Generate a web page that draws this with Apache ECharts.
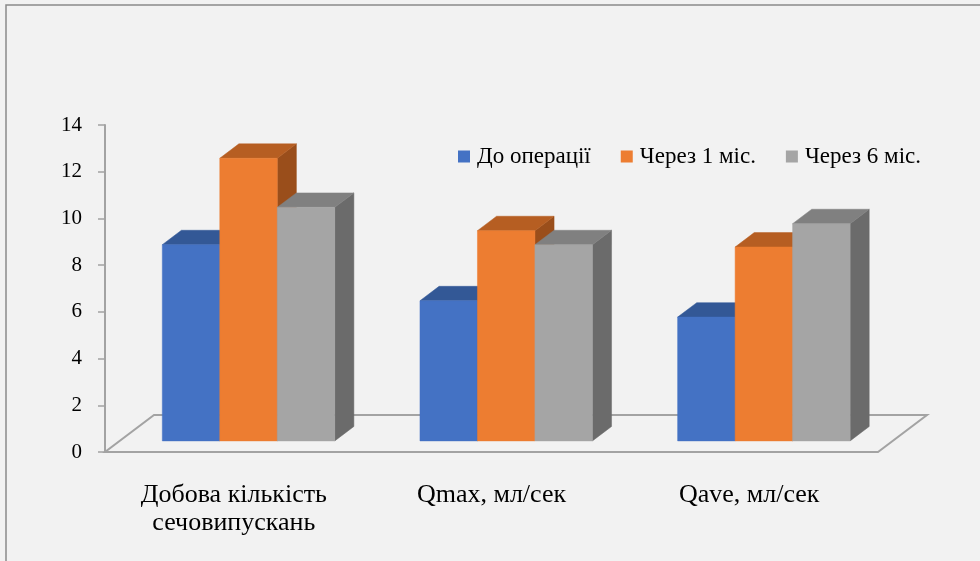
<!DOCTYPE html>
<html>
<head>
<meta charset="utf-8">
<script src="https://cdn.jsdelivr.net/npm/echarts@6/dist/echarts.min.js"></script>
<style>
  html, body { margin: 0; padding: 0; background: #f2f2f2; }
  #chart { width: 980px; height: 561px; }
</style>
</head>
<body>
<div id="chart"></div>
<script>
// Categories and series values
const categories = ['Добова кількість\nсечовипускань', 'Qmax, мл/сек', 'Qave, мл/сек'];
const seriesNames = ['До операції', 'Через 1 міс.', 'Через 6 міс.'];
const beforeOp = [8.4, 6.0, 5.3];
const after1m = [12.1, 9.0, 8.3];
const after6m = [10.0, 8.4, 9.3];
const yTicks = [0, 2, 4, 6, 8, 10, 12, 14];

// Face shades for each series: front, top, side
const palette = [
  { front: '#4472C4', top: '#335896', side: '#2d4e88' },
  { front: '#ED7D31', top: '#B65E22', side: '#9A4E1B' },
  { front: '#A5A5A5', top: '#808080', side: '#6B6B6B' }
];

// Oblique depth of the floor (px) and where the bars sit inside it
const FLOOR_DX = 49, FLOOR_DY = -37;
const BAR_FRONT = 0.30, BAR_BACK = 0.69;
const BAR_FRAC = 0.2231; // bar width as a share of the category band

function barRenderer(idx) {
  const c = palette[idx];
  return function (params, api) {
    const cat = api.value(0);
    const val = api.value(1);
    const bw = api.size([1, 0])[0];
    const w = bw * BAR_FRAC;
    const base = api.coord([cat, 0]);
    const top = api.coord([cat, val]);
    const ox = FLOOR_DX * BAR_FRONT, oy = FLOOR_DY * BAR_FRONT;
    const ddx = FLOOR_DX * (BAR_BACK - BAR_FRONT), ddy = FLOOR_DY * (BAR_BACK - BAR_FRONT);
    const x0 = base[0] - 1.5 * w + idx * w + ox;
    const x1 = x0 + w;
    const yb = base[1] + oy;
    const yt = top[1] + oy;
    return {
      type: 'group',
      children: [
        { type: 'polygon', shape: { points: [[x1, yt], [x1 + ddx, yt + ddy], [x1 + ddx, yb + ddy], [x1, yb]] },
          style: { fill: c.side, stroke: c.side, lineWidth: 0.5 } },
        { type: 'polygon', shape: { points: [[x0, yt], [x1, yt], [x1 + ddx, yt + ddy], [x0 + ddx, yt + ddy]] },
          style: { fill: c.top, stroke: c.top, lineWidth: 0.5 } },
        { type: 'rect', shape: { x: x0, y: yt, width: w, height: yb - yt },
          style: { fill: c.front, stroke: c.front, lineWidth: 0.5 } }
      ]
    };
  };
}

function floorRenderer(params, api) {
  const bw = api.size([1, 0])[0];
  const l = api.coord([0, 0]);
  const r = api.coord([categories.length - 1, 0]);
  const xl = l[0] - bw / 2, xr = r[0] + bw / 2, y = l[1];
  return {
    type: 'polygon',
    shape: { points: [[xl, y], [xr, y], [xr + FLOOR_DX, y + FLOOR_DY], [xl + FLOOR_DX, y + FLOOR_DY]] },
    style: { fill: 'none', stroke: '#a3a3a3', lineWidth: 2 }
  };
}

const values = [beforeOp, after1m, after6m];
const chart = echarts.init(document.getElementById('chart'), null, { renderer: 'canvas' });

const series = [{
  type: 'custom',
  name: 'floor',
  renderItem: floorRenderer,
  data: [[0, 0]],
  z: 1,
  silent: true
}];
values.forEach((arr, i) => {
  series.push({
    type: 'custom',
    name: seriesNames[i],
    renderItem: barRenderer(i),
    itemStyle: { color: palette[i].front },
    data: arr.map((v, k) => [k, v]),
    encode: { x: 0, y: 1 },
    z: 2 + i
  });
});

chart.setOption({
  animation: false,
  backgroundColor: '#f2f2f2',
  graphic: [{
    type: 'rect',
    shape: { x: 6, y: 5, width: 1000, height: 600 },
    style: { fill: 'none', stroke: '#8a8a8a', lineWidth: 1.5 },
    silent: true
  }],
  legend: {
    data: seriesNames,
    left: 453,
    top: 140,
    icon: 'rect',
    itemWidth: 12,
    itemHeight: 12,
    itemGap: 30,
    textStyle: { fontFamily: 'Liberation Serif', fontSize: 23, color: '#000', padding: [0, 0, 0, 2] }
  },
  grid: { left: 105, right: 102, top: 125, bottom: 109 },
  xAxis: {
    type: 'category',
    data: categories,
    axisLine: { show: false },
    axisTick: { show: false },
    axisLabel: {
      margin: 29,
      fontFamily: 'Liberation Serif',
      fontSize: 26,
      lineHeight: 28,
      color: '#000',
      interval: 0
    },
    splitLine: { show: false }
  },
  yAxis: {
    type: 'value',
    min: yTicks[0],
    max: yTicks[yTicks.length - 1],
    interval: yTicks[1] - yTicks[0],
    axisLine: { show: true, lineStyle: { color: '#a3a3a3', width: 2 } },
    axisTick: { show: true, length: 7, lineStyle: { color: '#a3a3a3', width: 1.5 } },
    axisLabel: { margin: 23, fontFamily: 'Liberation Serif', fontSize: 21, color: '#000' },
    splitLine: { show: false }
  },
  series: series
});
</script>
</body>
</html>
